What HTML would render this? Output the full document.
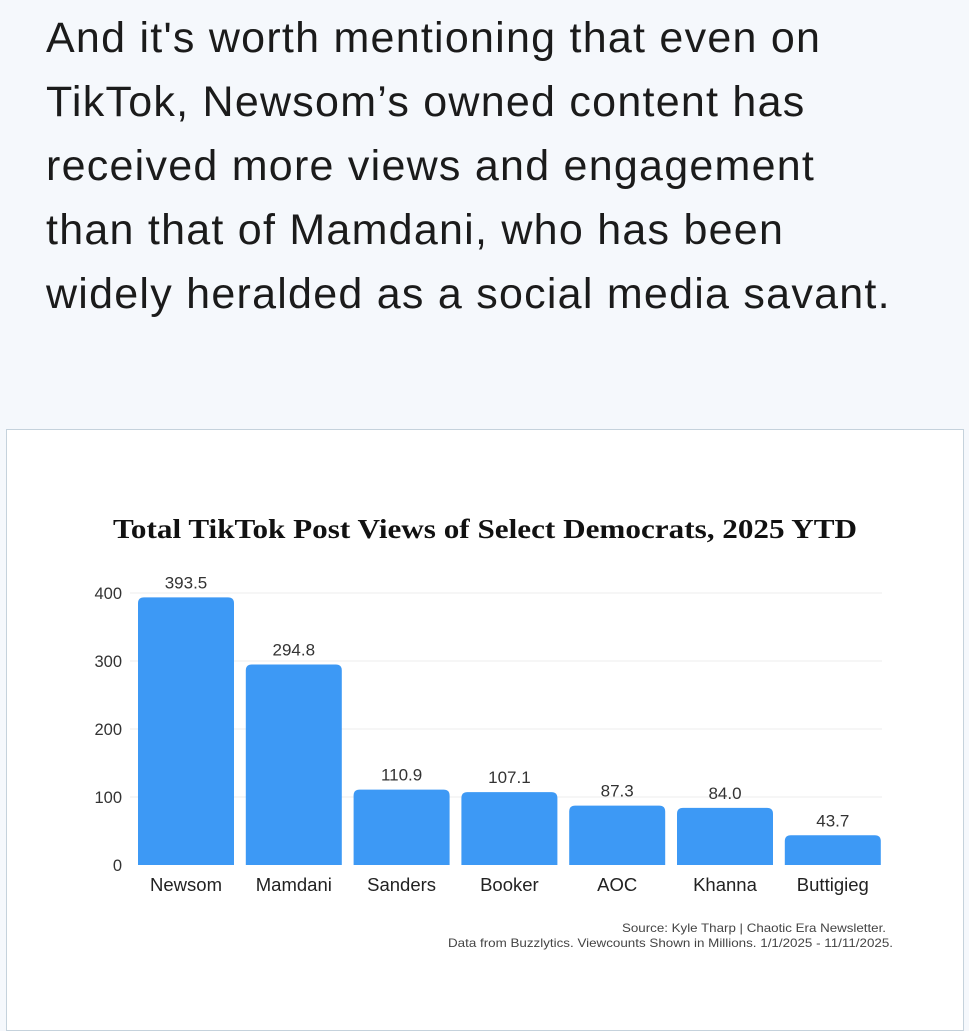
<!DOCTYPE html>
<html><head><meta charset="utf-8"><style>
body{margin:0;width:969px;height:1000px;background:#f5f8fc;overflow:hidden;font-family:"Liberation Sans",sans-serif;position:relative}
#intro{position:absolute;left:46px;top:6px;margin:0;font-size:43px;line-height:64px;color:#1b1b1b;letter-spacing:1.25px;white-space:nowrap}
#card{position:absolute;left:6px;top:429px;width:956px;height:600px;background:#fff;border:1.5px solid #c5d2dc}
svg{position:absolute;left:0;top:0}
</style></head><body>
<p id="intro">And it's worth mentioning that even on<br>TikTok, Newsom’s owned content has<br>received more views and engagement<br>than that of Mamdani, who has been<br>widely heralded as a social media savant.</p>
<div id="card"></div>
<svg id="chart" width="969" height="1000">
<text x="485" y="538" text-anchor="middle" textLength="744" lengthAdjust="spacingAndGlyphs" font-family="Liberation Serif,serif" font-weight="bold" font-size="27" fill="#111">Total TikTok Post Views of Select Democrats, 2025 YTD</text>
<text x="886" y="932" text-anchor="end" textLength="264" lengthAdjust="spacingAndGlyphs" font-size="12" fill="#444">Source: Kyle Tharp | Chaotic Era Newsletter.</text>
<text x="893" y="947" text-anchor="end" textLength="445" lengthAdjust="spacingAndGlyphs" font-size="12" fill="#444">Data from Buzzlytics. Viewcounts Shown in Millions. 1/1/2025 - 11/11/2025.</text>
</svg>
<script>
const categories=["Newsom","Mamdani","Sanders","Booker","AOC","Khanna","Buttigieg"];
const values=[393.5,294.8,110.9,107.1,87.3,84.0,43.7];
const valueLabels=["393.5","294.8","110.9","107.1","87.3","84.0","43.7"];
const yTicks=[0,100,200,300,400];
const svg=document.getElementById('chart');
const NS='http://www.w3.org/2000/svg';
const y0=865,pxPer=0.68,x0=132,step=107.8,bw=96;
const y=v=>y0-v*pxPer;
const xb=i=>x0+6+i*step;
function mk(t,a){const e=document.createElementNS(NS,t);for(const k in a)e.setAttribute(k,a[k]);svg.appendChild(e);return e;}
yTicks.forEach(t=>{
 if(t>0){const g=mk('line',{x1:130,x2:882,y1:y(t),y2:y(t),stroke:'#ececec','stroke-width':1});
 
 }
 const l=mk('text',{x:122,y:y(t)+6,'text-anchor':'end','font-size':16.5,fill:'#333'});
 l.textContent=t;
 
 
});
categories.forEach((c,i)=>{
 const h=values[i]*pxPer,x=xb(i);
 const p=mk('path',{d:`M${x},${y0}V${y0-h+6}Q${x},${y0-h} ${x+6},${y0-h}H${x+bw-6}Q${x+bw},${y0-h} ${x+bw},${y0-h+6}V${y0}Z`,fill:'#3d99f5'});
 
 
 const v=mk('text',{x:x+bw/2,y:y0-h-9,'text-anchor':'middle','font-size':17,fill:'#333'});
 v.textContent=valueLabels[i];
 
 
 const t=mk('text',{x:x+bw/2,y:891,'text-anchor':'middle','font-size':18.5,fill:'#222'});
 t.textContent=c;
 
 
});
</script>
</body></html>
